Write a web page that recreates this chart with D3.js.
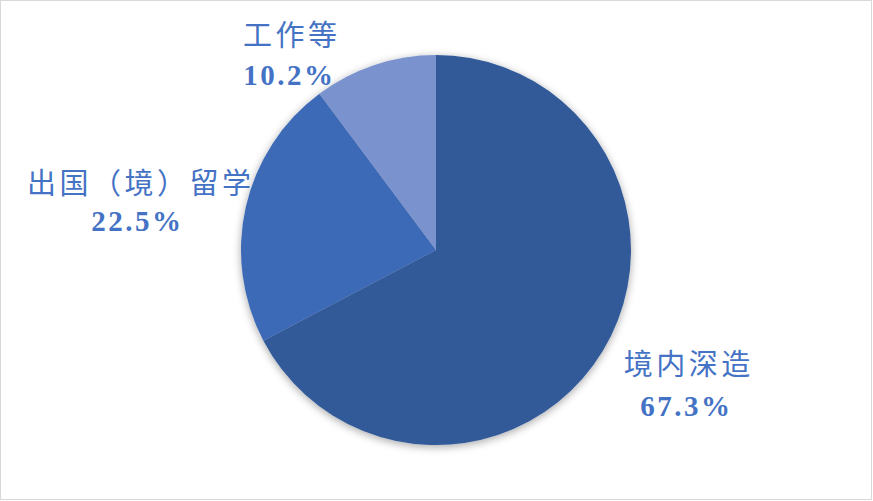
<!DOCTYPE html>
<html><head><meta charset="utf-8">
<script src="https://cdn.jsdelivr.net/npm/d3@7"></script>
<style>html,body{margin:0;padding:0;background:#fff;}svg{display:block;}</style>
</head><body>
<svg id="chart" width="873" height="501"></svg>
<script>
const categories = ["境内深造", "出国（境）留学", "工作等"];
const values = [67.3, 22.5, 10.2];
const valueLabels = ["67.3%", "22.5%", "10.2%"];
const colors = ["#325A99", "#3E6AB6", "#7A92CD"];

const svg = d3.select("#chart");
const W = 873, H = 501;
svg.append("rect").attr("x", 0.5).attr("y", 0.5).attr("width", W - 2).attr("height", H - 2)
  .attr("fill", "#fff").attr("stroke", "#D9D9D9").attr("stroke-width", 1);

const defs = svg.append("defs");
const f = defs.append("filter").attr("id", "shadow").attr("x", "-20%").attr("y", "-20%").attr("width", "140%").attr("height", "140%");
f.append("feGaussianBlur").attr("in", "SourceAlpha").attr("stdDeviation", 4.5).attr("result", "b");
f.append("feOffset").attr("in", "b").attr("dx", 0).attr("dy", 2).attr("result", "o");
f.append("feComponentTransfer").attr("in", "o").attr("result", "s")
  .append("feFuncA").attr("type", "linear").attr("slope", 0.35);
const m = f.append("feMerge");
m.append("feMergeNode").attr("in", "s");
m.append("feMergeNode").attr("in", "SourceGraphic");

const cx = 436, cy = 250, r = 195;
const pie = d3.pie().sort(null).value(d => d)(values);
const arc = d3.arc().innerRadius(0).outerRadius(r);
const g = svg.append("g").attr("transform", `translate(${cx},${cy})`).attr("filter", "url(#shadow)");
g.selectAll("path").data(pie).join("path")
  .attr("d", arc).attr("fill", (d, i) => colors[i]);

const labelPos = [
  {x: 687, y: 362, vx: 685, vy: 406},
  {x: 139, y: 181, vx: 136, vy: 221},
  {x: 290, y: 33, vx: 288, vy: 75}
];
const lg = svg.append("g");
const cjkSp = 3.5, numSp = 2.5;
categories.forEach((c, i) => {
  lg.append("text").attr("x", labelPos[i].x + cjkSp / 2).attr("y", labelPos[i].y)
    .attr("text-anchor", "middle").attr("dominant-baseline", "central")
    .attr("font-family", "'Noto Sans CJK SC', sans-serif").attr("font-size", 29)
    .attr("letter-spacing", cjkSp)
    .attr("fill", "#4472C4").text(c);
  lg.append("text").attr("x", labelPos[i].vx + numSp / 2).attr("y", labelPos[i].vy)
    .attr("text-anchor", "middle").attr("dominant-baseline", "central")
    .attr("font-family", "'Liberation Serif', 'Times New Roman', serif").attr("font-size", 29)
    .attr("font-weight", "bold").attr("letter-spacing", numSp)
    .attr("fill", "#4472C4").text(valueLabels[i]);
});
</script>
</body></html>
